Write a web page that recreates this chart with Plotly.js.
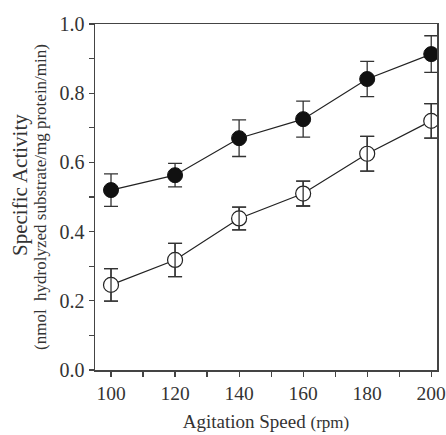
<!DOCTYPE html>
<html>
<head>
<meta charset="utf-8">
<script src="https://cdn.plot.ly/plotly-3.0.1.min.js"></script>
<style>html,body{margin:0;padding:0;background:#fff;}#chart{width:446px;height:435px;}</style>
</head>
<body>
<div id="chart"></div>
<script>
var speed = [100, 120, 140, 160, 180, 200];
var filledValues = [0.52, 0.563, 0.67, 0.725, 0.841, 0.913];
var filledErrors = [0.047, 0.034, 0.053, 0.052, 0.051, 0.053];
var openValues = [0.246, 0.318, 0.438, 0.51, 0.625, 0.72];
var openErrors = [0.047, 0.048, 0.033, 0.036, 0.05, 0.05];
var xTicks = [100, 120, 140, 160, 180, 200];
var yTicks = [0.0, 0.2, 0.4, 0.6, 0.8, 1.0];
var yTickLabels = ['0.0', '0.2', '0.4', '0.6', '0.8', '1.0'];

var ink = '#222';
function errObj(arr) {
  return {type: 'data', array: arr, visible: true, color: '#333', thickness: 1.3, width: 7};
}
var traces = [
  {x: speed, y: openValues, mode: 'lines+markers', type: 'scatter',
   line: {color: ink, width: 1.2},
   marker: {symbol: 'circle', size: 15, color: '#fff', line: {color: ink, width: 1.2}},
   error_y: errObj(openErrors), showlegend: false},
  {x: speed, y: openValues, mode: 'lines', type: 'scatter',
   line: {color: 'rgba(0,0,0,0)', width: 0},
   error_y: errObj(openErrors), showlegend: false, hoverinfo: 'skip'},
  {x: speed, y: filledValues, mode: 'lines+markers', type: 'scatter',
   line: {color: ink, width: 1.2},
   marker: {symbol: 'circle', size: 15, color: '#111', line: {color: '#111', width: 1}},
   error_y: errObj(filledErrors), showlegend: false}
];

var layout = {
  width: 446, height: 435,
  margin: {l: 95, r: 9, t: 24, b: 65},
  paper_bgcolor: '#fff', plot_bgcolor: '#fff',
  font: {family: 'Liberation Serif, Times New Roman, serif', color: '#333'},
  xaxis: {
    range: [95, 201.8], tickvals: xTicks, ticktext: xTicks.map(String),
    showgrid: false, zeroline: false, showline: true, linecolor: '#444', linewidth: 1.5, mirror: true,
    ticks: 'outside', ticklen: 5, tickwidth: 1.2, tickcolor: '#444',
    tickfont: {size: 19.5, color: '#333'}, ticklabeloverflow: 'allow',
    minor: {tickvals: [110, 130, 150, 170, 190], ticks: 'outside', ticklen: 5, tickwidth: 1.2, tickcolor: '#444', showgrid: false},
    title: {text: 'Agitation Speed <span style="font-size:17px">(rpm)</span>', font: {size: 19, color: '#333'}, standoff: 12}
  },
  yaxis: {
    range: [0, 1.0], tickvals: yTicks, ticktext: yTickLabels,
    showgrid: false, zeroline: false, showline: true, linecolor: '#444', linewidth: 1.5, mirror: true,
    ticks: 'outside', ticklen: 5, tickwidth: 1.2, tickcolor: '#444',
    tickfont: {size: 20, color: '#333'}, ticklabeloverflow: 'allow',
    minor: {tickvals: [0.1, 0.3, 0.5, 0.7, 0.9], ticks: 'outside', ticklen: 5, tickwidth: 1.2, tickcolor: '#444', showgrid: false}
  },
  annotations: [
    {text: 'Specific Activity', xref: 'paper', yref: 'paper', x: 0, y: 0.5, xanchor: 'center', yanchor: 'middle',
     xshift: -75, yshift: 12, textangle: -90, showarrow: false, font: {size: 21, color: '#333'}},
    {text: '(nmol&nbsp;&nbsp;hydrolyzed substrate/mg protein/min)', xref: 'paper', yref: 'paper', x: 0, y: 0.5,
     xanchor: 'center', yanchor: 'middle', xshift: -55, textangle: -90, showarrow: false, font: {size: 17, color: '#333'}}
  ]
};
Plotly.newPlot('chart', traces, layout, {displayModeBar: false, staticPlot: true});
</script>
</body>
</html>
